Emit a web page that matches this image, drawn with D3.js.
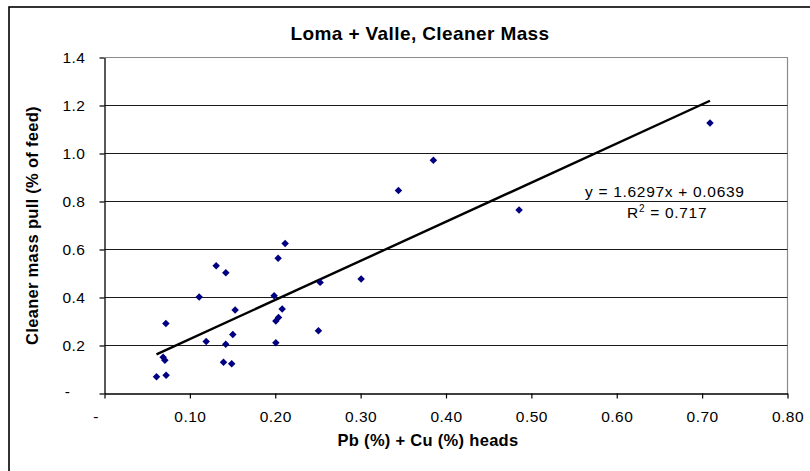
<!DOCTYPE html>
<html>
<head>
<meta charset="utf-8">
<script src="https://cdn.jsdelivr.net/npm/d3@7"></script>
<style>
  html, body { margin: 0; padding: 0; background: #fff; }
  svg { display: block; font-family: "Liberation Sans", Arial, sans-serif; }
</style>
</head>
<body>
<svg id="chart" width="810" height="471"></svg>
<script>
// ---- data ----
const headsX = [0.2116, 0.1308, 0.1421, 0.2034, 0.1109, 0.1987, 0.1530, 0.2081, 0.2038, 0.2007,
                0.0719, 0.1503, 0.1191, 0.1420, 0.2007, 0.0687, 0.0707, 0.1394, 0.1490, 0.0609,
                0.0722, 0.2526, 0.3006, 0.2506, 0.3852, 0.3443, 0.4856, 0.7092];
const massPull = [0.625, 0.532, 0.503, 0.564, 0.402, 0.407, 0.348, 0.352, 0.317, 0.302,
                  0.292, 0.246, 0.217, 0.205, 0.2115, 0.151, 0.139, 0.130, 0.124, 0.070,
                  0.076, 0.463, 0.477, 0.261, 0.972, 0.846, 0.765, 1.127];
const trendSlope = [1.6297];
const trendIntercept = [0.0639];
const rSquared = [0.717];
const xTicks = [0, 0.1, 0.2, 0.3, 0.4, 0.5, 0.6, 0.7, 0.8];
const yTicks = [0, 0.2, 0.4, 0.6, 0.8, 1.0, 1.2, 1.4];
const chartTitle = "Loma + Valle, Cleaner Mass";
const xTitle = "Pb (%) + Cu (%) heads";
const yTitle = "Cleaner mass pull (% of feed)";

// ---- layout ----
const svg = d3.select("#chart");
const L = 104.5, R = 787.5, T = 57.5, B = 393.5;
const x = d3.scaleLinear().domain([0, 0.8]).range([L, R]);
const y = d3.scaleLinear().domain([0, 1.4]).range([B, T]);

svg.append("rect").attr("width", 810).attr("height", 471).attr("fill", "#fff");
// outer chart border (clipped right/bottom)
svg.append("rect").attr("x", 9).attr("y", 7).attr("width", 900).attr("height", 600)
  .attr("fill", "none").attr("stroke", "#000").attr("stroke-width", 1.6);

// title
svg.append("text").attr("x", 420).attr("y", 40).attr("text-anchor", "middle")
  .attr("font-size", 19).attr("font-weight", "bold").attr("letter-spacing", 0.4)
  .text(chartTitle);

// plot border (top/right gray)
svg.append("path")
  .attr("d", `M${L},${T}H${R}V${B}`)
  .attr("fill", "none").attr("stroke", "#8c8c8c").attr("stroke-width", 1.2);

// gridlines
svg.append("g").selectAll("line").data(yTicks.filter(v => v > 0 && v < 1.4)).join("line")
  .attr("x1", L).attr("x2", R).attr("y1", d => y(d)).attr("y2", d => y(d))
  .attr("stroke", "#1a1a1a").attr("stroke-width", 1);

// axes
const fmtX = v => v === 0 ? "-" : d3.format(".2f")(v);
const fmtY = v => v === 0 ? "-" : d3.format(".1f")(v);

const gx = svg.append("g").attr("transform", `translate(0,${B})`)
  .call(d3.axisBottom(x).tickValues(xTicks).tickFormat(fmtX).tickSize(5).tickSizeOuter(0).tickPadding(12));
const gy = svg.append("g").attr("transform", `translate(${L},0)`)
  .call(d3.axisLeft(y).tickValues(yTicks).tickFormat(fmtY).tickSize(5).tickSizeOuter(0).tickPadding(14));

[gx, gy].forEach(g => {
  g.select(".domain").attr("stroke", "#000").attr("stroke-width", 1.3);
  g.selectAll(".tick line").attr("stroke", "#000").attr("stroke-width", 1.2);
  g.selectAll(".tick text").attr("fill", "#000").attr("font-size", 15.5)
    .attr("font-family", "\"Liberation Sans\", Arial, sans-serif").attr("letter-spacing", 0.5);
});
gx.selectAll(".tick text").filter(d => d === 0).attr("dx", -9);
gy.selectAll(".tick text").filter(d => d === 0).attr("dx", -15).attr("dy", "0.2em");

// axis titles
svg.append("text").attr("x", 428).attr("y", 446).attr("text-anchor", "middle")
  .attr("font-size", 16.5).attr("font-weight", "bold").attr("letter-spacing", 0.3).text(xTitle);
svg.append("text").attr("transform", `translate(38,${(T + B) / 2}) rotate(-90)`)
  .attr("text-anchor", "middle").attr("font-size", 16.5).attr("font-weight", "bold")
  .attr("letter-spacing", 0.3).text(yTitle);

// trendline
const xMin = d3.min(headsX), xMax = d3.max(headsX);
svg.append("line")
  .attr("x1", x(xMin)).attr("y1", y(trendSlope[0] * xMin + trendIntercept[0]))
  .attr("x2", x(xMax)).attr("y2", y(trendSlope[0] * xMax + trendIntercept[0]))
  .attr("stroke", "#000").attr("stroke-width", 2.4);

// points
const pts = headsX.map((v, i) => [v, massPull[i]]);
svg.append("g").selectAll("path").data(pts).join("path")
  .attr("d", d3.symbol().type(d3.symbolSquare).size(28))
  .attr("transform", d => `translate(${x(d[0])},${y(d[1])}) rotate(45)`)
  .attr("fill", "#000080");

// equation labels
const eq = svg.append("text").attr("x", 585).attr("y", 197).attr("font-size", 15.5).attr("letter-spacing", 0.7)
  .text(`y = ${trendSlope[0].toFixed(4)}x + ${trendIntercept[0].toFixed(4)}`);
const r2 = svg.append("text").attr("x", 627).attr("y", 217.5).attr("font-size", 15.5).attr("letter-spacing", 0.7);
r2.append("tspan").text("R");
r2.append("tspan").attr("font-size", 10).attr("dy", -6).text("2");
r2.append("tspan").attr("dy", 6).text(` = ${rSquared[0]}`);
</script>
</body>
</html>
